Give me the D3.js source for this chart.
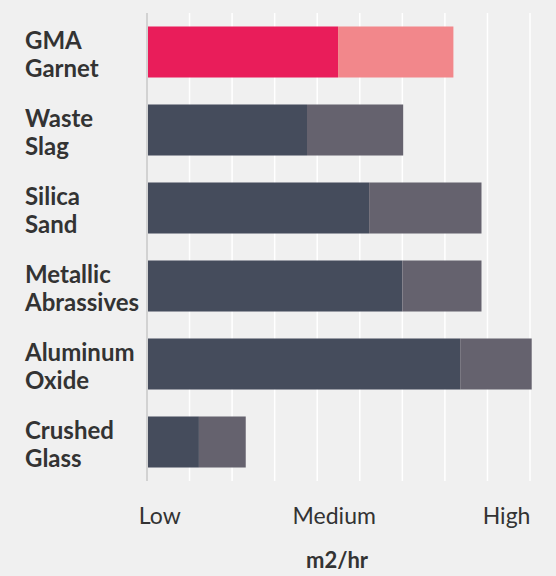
<!doctype html>
<html>
<head>
  <style>
    body { margin: 0; background: #f0f0f0; }
    svg { display: block; font-family: Lato, sans-serif; }
  </style>
  <script src="https://cdn.jsdelivr.net/npm/d3@7"></script>
</head>
<body>
  <script>
  // data (x units: one gridline step each)
  var categories = ["GMA|Garnet", "Waste|Slag", "Silica|Sand", "Metallic|Abrassives", "Aluminum|Oxide", "Crushed|Glass"];
  var baseValues = [4.49, 3.76, 5.22, 6.0, 7.36, 1.22];
  var extraValues = [2.71, 2.26, 2.64, 1.86, 1.68, 1.1];
  var tickLabels = ["Low", "Medium", "High"];
  var tickValues = [0.3, 4.4, 8.45];
  var axisTitle = "m2/hr";

  var W = 556, H = 576;
  // plot box (note: "top" is reserved on window, so use plot* names)
  var plotLeft = 147, plotRight = 530, plotTop = 13, plotBottom = 481;

  var svg = d3.select("body").append("svg")
    .attr("width", W)
    .attr("height", H);

  var x = d3.scaleLinear().domain([0, 9]).range([plotLeft, plotRight]);
  var y = d3.scaleBand().domain(categories).range([plotTop, plotBottom])
    .paddingInner(0.346).paddingOuter(0.173);

  // gridlines
  svg.append("g").selectAll("line")
    .data(d3.range(1, 10))
    .enter().append("line")
    .attr("x1", function(d) { return x(d); })
    .attr("x2", function(d) { return x(d); })
    .attr("y1", plotTop)
    .attr("y2", plotBottom)
    .attr("stroke", "#ffffff")
    .attr("stroke-width", 1.5);

  // bars
  var rows = svg.append("g").selectAll("g")
    .data(categories)
    .enter().append("g");

  rows.append("rect")
    .attr("x", x(0))
    .attr("y", function(d) { return y(d); })
    .attr("height", y.bandwidth())
    .attr("width", function(d, i) { return x(baseValues[i]) - x(0); })
    .attr("fill", function(d, i) { return i == 0 ? "#e91d5a" : "#454c5c"; });

  rows.append("rect")
    .attr("x", function(d, i) { return x(baseValues[i]); })
    .attr("y", function(d) { return y(d); })
    .attr("height", y.bandwidth())
    .attr("width", function(d, i) { return x(baseValues[i] + extraValues[i]) - x(baseValues[i]); })
    .attr("fill", function(d, i) { return i == 0 ? "#f2878b" : "#65626e"; });

  // axis line
  svg.append("line")
    .attr("x1", plotLeft).attr("x2", plotLeft)
    .attr("y1", plotTop).attr("y2", plotBottom)
    .attr("stroke", "#d2d2d2")
    .attr("stroke-width", 2);

  // category labels (two lines)
  var labels = svg.append("g").selectAll("text")
    .data(categories)
    .enter().append("text")
    .attr("x", 25)
    .attr("y", function(d) { return y(d) + y.bandwidth() / 2 - 3; })
    .attr("font-size", "24px")
    .attr("font-weight", "bold")
    .attr("fill", "#333333");

  labels.selectAll("tspan")
    .data(function(d) { return d.split("|"); })
    .enter().append("tspan")
    .attr("x", 25)
    .attr("dy", function(d, i) { return i == 0 ? "0" : "28"; })
    .text(function(d) { return d; });

  // x tick labels
  svg.append("g").selectAll("text")
    .data(tickLabels)
    .enter().append("text")
    .attr("x", function(d, i) { return x(tickValues[i]); })
    .attr("y", 524)
    .attr("text-anchor", "middle")
    .attr("font-size", "23px")
    .attr("fill", "#333333")
    .text(function(d) { return d; });

  svg.append("text")
    .attr("x", 337)
    .attr("y", 568)
    .attr("text-anchor", "middle")
    .attr("font-size", "22px")
    .attr("font-weight", "bold")
    .attr("fill", "#333333")
    .text(axisTitle);
  </script>
</body>
</html>
